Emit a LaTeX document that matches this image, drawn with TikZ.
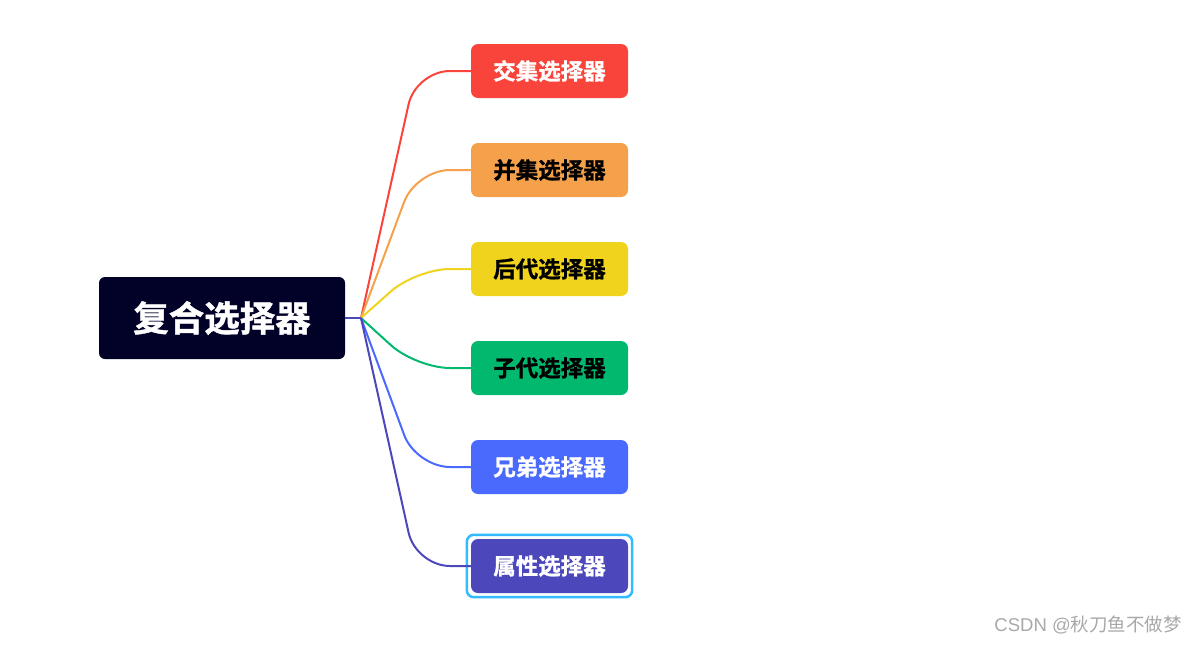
\documentclass[tikz,border=0pt]{standalone}
\usepackage{fontspec}
\newfontfamily\cjk{Noto Sans CJK SC}
\newfontfamily\cjkb[FakeBold=1.2]{Noto Sans CJK SC Bold}
\newfontfamily\lat{Liberation Sans}
\definecolor{cRoot}{HTML}{020228}
\definecolor{cRed}{HTML}{F9443B}
\definecolor{cOrange}{HTML}{F5A04A}
\definecolor{cYellow}{HTML}{F0D31C}
\definecolor{cGreen}{HTML}{00B96F}
\definecolor{cBlue}{HTML}{4A6AFE}
\definecolor{cPurple}{HTML}{4C47BB}
\definecolor{cSel}{HTML}{33BBFF}
\definecolor{cMark}{HTML}{A8A8A8}
\tikzset{
  rootbox/.style={fill=cRoot, rounded corners=6pt, minimum width=246pt, minimum height=82pt, inner sep=0pt, text=white, font=\cjkb\fontsize{35.5}{40}\selectfont},
  childbox/.style={fill=#1, rounded corners=7pt, minimum width=157pt, minimum height=54pt, inner sep=0pt, font=\cjkb\fontsize{22.5}{25}\selectfont},
  branch/.style={draw=#1, line width=2pt, rounded corners=34pt},
}
\begin{document}
\begin{tikzpicture}[x=1pt,y=-1pt]
\useasboundingbox (0,0) rectangle (1196,645);
\node[rootbox] (root) at (222,318) {复合选择器};
\coordinate (j) at (361,318);
\node[childbox=cRed, text=white] (c1) at (549.5,71) {交集选择器};
\node[childbox=cOrange, text=black] (c2) at (549.5,170) {并集选择器};
\node[childbox=cYellow, text=black] (c3) at (549.5,269) {后代选择器};
\node[childbox=cGreen, text=black] (c4) at (549.5,368) {子代选择器};
\node[childbox=cBlue, text=white] (c5) at (549.5,467) {兄弟选择器};
\node[childbox=cPurple, text=white] (c6) at (549.5,566) {属性选择器};
\draw[cSel, line width=2.5pt, rounded corners=7pt] ([xshift=-4pt,yshift=4pt]c6.north west) rectangle ([xshift=4pt,yshift=-4pt]c6.south east);
\draw[branch=cRed] (j) -- (416,71) -- (c1.west);
\draw[branch=cOrange] (j) -- (416,170) -- (c2.west);
\draw[branch=cYellow] (j) -- (416,269) -- (c3.west);
\draw[branch=cGreen] (j) -- (416,368) -- (c4.west);
\draw[branch=cBlue] (j) -- (416,467) -- (c5.west);
\draw[branch=cPurple] (j) -- (416,566) -- (c6.west);
\draw[cPurple, line width=2.5pt] (root.east) -- (j);
\node[anchor=east, text=cMark, font=\cjk\fontsize{18.5}{20}\selectfont, inner sep=0pt] (wm) at (1182,625) {{\lat CSDN @}秋刀鱼不做梦};
\end{tikzpicture}
\end{document}
